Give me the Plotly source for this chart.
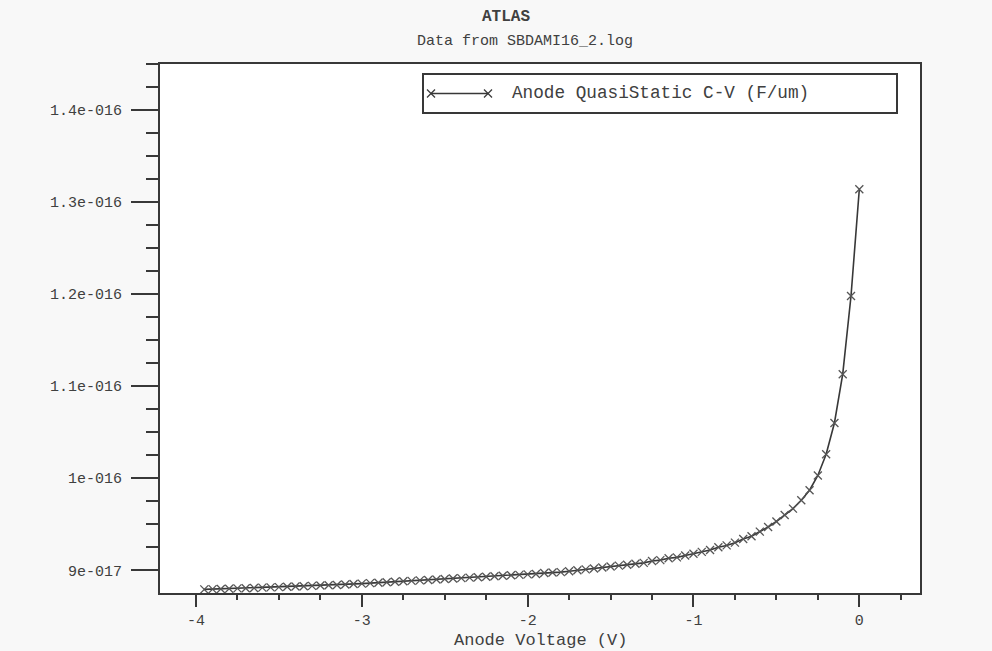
import plotly.graph_objects as go

# Quasi-static C-V sweep of the anode (ATLAS log SBDAMI16_2.log)
anode_voltage = [
    -3.95, -3.90, -3.85, -3.80, -3.75, -3.70, -3.65, -3.60, -3.55, -3.50,
    -3.45, -3.40, -3.35, -3.30, -3.25, -3.20, -3.15, -3.10, -3.05, -3.00,
    -2.95, -2.90, -2.85, -2.80, -2.75, -2.70, -2.65, -2.60, -2.55, -2.50,
    -2.45, -2.40, -2.35, -2.30, -2.25, -2.20, -2.15, -2.10, -2.05, -2.00,
    -1.95, -1.90, -1.85, -1.80, -1.75, -1.70, -1.65, -1.60, -1.55, -1.50,
    -1.45, -1.40, -1.35, -1.30, -1.25, -1.20, -1.15, -1.10, -1.05, -1.00,
    -0.95, -0.90, -0.85, -0.80, -0.75, -0.70, -0.65, -0.60, -0.55, -0.50,
    -0.45, -0.40, -0.35, -0.30, -0.25, -0.20, -0.15, -0.10, -0.05, 0.00,
]
# capacitance in units of 1e-17 F/um
capacitance_e17 = [
    8.792, 8.795, 8.797, 8.800, 8.803, 8.805, 8.808, 8.811, 8.814, 8.817,
    8.820, 8.823, 8.826, 8.830, 8.834, 8.837, 8.840, 8.845, 8.850, 8.855,
    8.860, 8.865, 8.870, 8.875, 8.880, 8.885, 8.890, 8.895, 8.900, 8.905,
    8.910, 8.915, 8.920, 8.925, 8.930, 8.935, 8.940, 8.945, 8.950, 8.955,
    8.960, 8.970, 8.975, 8.980, 8.990, 9.000, 9.010, 9.020, 9.030, 9.040,
    9.050, 9.060, 9.070, 9.080, 9.100, 9.110, 9.130, 9.140, 9.160, 9.180,
    9.200, 9.220, 9.250, 9.270, 9.300, 9.340, 9.370, 9.420, 9.470, 9.530,
    9.600, 9.670, 9.760, 9.870, 10.030, 10.260, 10.600, 11.130, 11.980, 13.140,
]
capacitance = [c * 1e-17 for c in capacitance_e17]

y_tick_values = [9e-17, 1e-16, 1.1e-16, 1.2e-16, 1.3e-16, 1.4e-16]
y_tick_labels = ["9e-017", "1e-016", "1.1e-016", "1.2e-016", "1.3e-016", "1.4e-016"]
x_tick_values = [-4, -3, -2, -1, 0]
x_tick_labels = ["-4", "-3", "-2", "-1", "0"]

series_name = "Anode QuasiStatic C-V (F/um)"

W, H = 992, 651
PLOT_L, PLOT_R, PLOT_T, PLOT_B = 160, 920, 64, 593
MONO = "Liberation Mono, DejaVu Sans Mono, monospace"
INK = "#383838"
TXT = "#404040"


def fx(p):
    return (p - PLOT_L) / (PLOT_R - PLOT_L)


def fy(p):
    return (PLOT_B - p) / (PLOT_B - PLOT_T)


fig = go.Figure()
fig.add_trace(go.Scatter(
    x=anode_voltage, y=capacitance, mode="lines+markers", name=series_name,
    showlegend=False,
    line=dict(color=INK, width=1.6),
    marker=dict(symbol="x-thin", size=8, line=dict(color="#555555", width=1.3)),
))

# legend box drawn by hand: line with a cross at each end
lg_l, lg_r, lg_t, lg_b = 423, 897, 74, 113
lg_mid = (lg_t + lg_b) / 2
sym_l, sym_r, arm = 431, 488, 4
shapes = [
    dict(type="rect", xref="paper", yref="paper",
         x0=fx(lg_l), x1=fx(lg_r), y0=fy(lg_b), y1=fy(lg_t),
         line=dict(color=INK, width=2), fillcolor="white", layer="above"),
    dict(type="line", xref="paper", yref="paper",
         x0=fx(sym_l), x1=fx(sym_r), y0=fy(lg_mid), y1=fy(lg_mid),
         line=dict(color=INK, width=1.5), layer="above"),
]
for cx in (sym_l, sym_r):
    for d in (1, -1):
        shapes.append(dict(
            type="line", xref="paper", yref="paper",
            x0=fx(cx - arm), x1=fx(cx + arm),
            y0=fy(lg_mid - d * arm), y1=fy(lg_mid + d * arm),
            line=dict(color=INK, width=1.3), layer="above"))

annotations = [
    dict(text=series_name, xref="paper", yref="paper", x=fx(510), y=fy(lg_mid),
         xanchor="left", yanchor="middle", showarrow=False,
         font=dict(family=MONO, size=17.7, color=TXT)),
    dict(text="<b>ATLAS</b>", xref="paper", yref="paper", x=fx(506), y=fy(17),
         xanchor="center", yanchor="middle", showarrow=False,
         font=dict(family=MONO, size=16, color=TXT)),
    dict(text="Data from SBDAMI16_2.log", xref="paper", yref="paper", x=fx(525), y=fy(41),
         xanchor="center", yanchor="middle", showarrow=False,
         font=dict(family=MONO, size=15, color=TXT)),
    # x-axis title placed as text so its baseline is independent of the tick labels
    dict(text="Anode Voltage (V)", xref="paper", yref="paper", x=0.5, y=fy(640),
         xanchor="center", yanchor="middle", showarrow=False,
         font=dict(family=MONO, size=17, color=TXT)),
]

fig.update_layout(
    width=W, height=H, autosize=False,
    margin=dict(l=PLOT_L, r=W - PLOT_R, t=PLOT_T, b=H - PLOT_B, pad=0, autoexpand=False),
    paper_bgcolor="#f8f8f8", plot_bgcolor="white",
    showlegend=False, shapes=shapes, annotations=annotations,
    xaxis=dict(
        range=[-4.217, 0.366], showgrid=False, zeroline=False, automargin=False,
        showline=True, linecolor=INK, linewidth=2, mirror=True,
        tickmode="array", tickvals=x_tick_values, ticktext=x_tick_labels,
        ticks="outside", ticklen=12, tickwidth=2, tickcolor=INK,
        ticklabelstandoff=0,
        tickfont=dict(family=MONO, size=15, color=TXT),
        minor=dict(dtick=0.25, tick0=0, ticks="outside", ticklen=5,
                   tickwidth=1.5, tickcolor=INK),
    ),
    yaxis=dict(
        range=[8.753e-17, 1.45e-16], showgrid=False, zeroline=False, automargin=False,
        showline=True, linecolor=INK, linewidth=2, mirror=True,
        tickmode="array", tickvals=y_tick_values, ticktext=y_tick_labels,
        ticks="outside", ticklen=27, tickwidth=2, tickcolor=INK,
        ticklabelstandoff=6,
        tickfont=dict(family=MONO, size=15, color=TXT),
        minor=dict(dtick=2.5e-18, tick0=9e-17, ticks="outside", ticklen=12,
                   tickwidth=1.5, tickcolor=INK),
    ),
)

fig.write_html("out.html")
